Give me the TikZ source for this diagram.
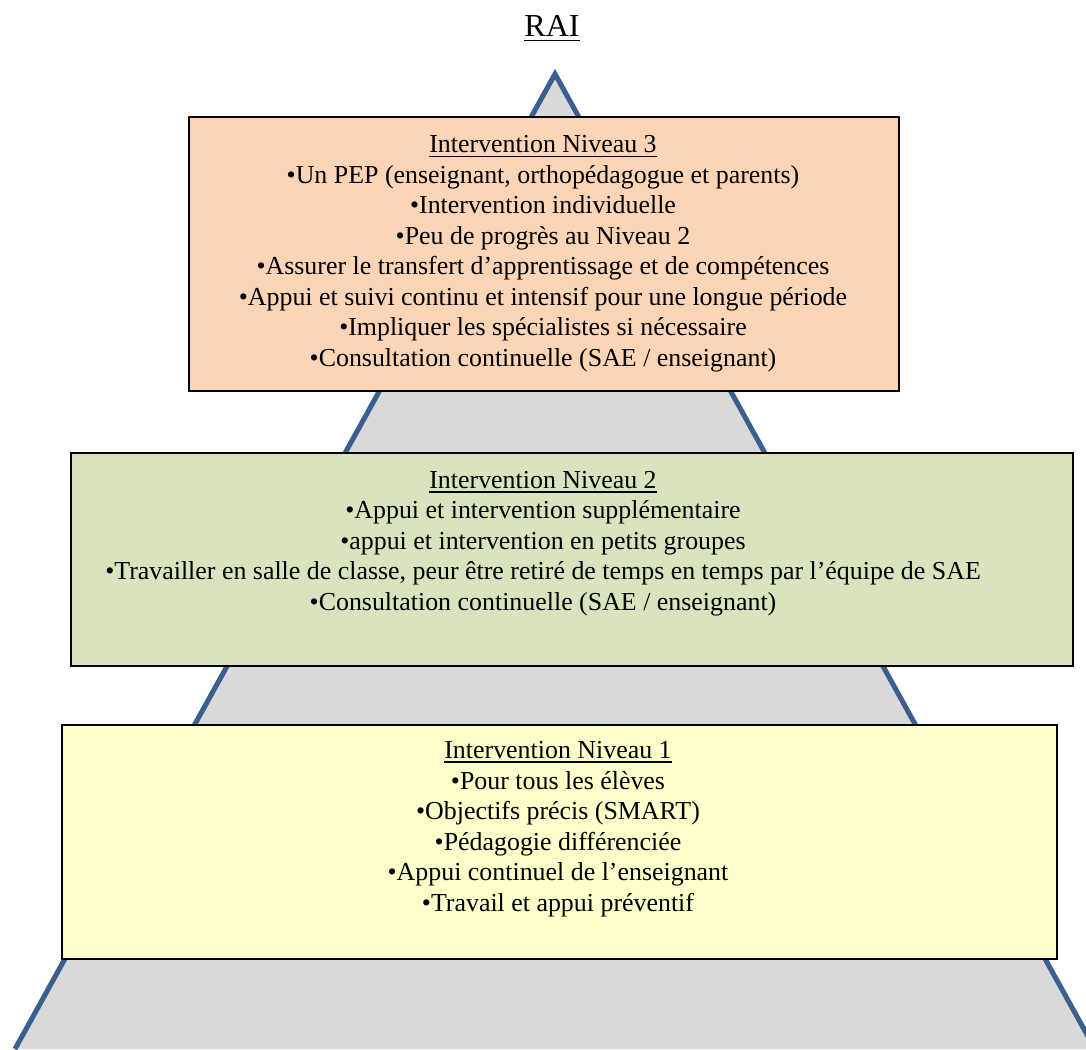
\documentclass[tikz,border=0pt]{standalone}
\usepackage{fontspec}
\setmainfont{Liberation Serif}
\definecolor{pyrfill}{HTML}{D9D9D9}
\definecolor{pyrline}{HTML}{3A5F8E}
\definecolor{lvlthree}{HTML}{FBD5B5}
\definecolor{lvltwo}{HTML}{D7E4BD}
\definecolor{lvlone}{HTML}{FFFFCC}
\newcommand{\ulx}[1]{\setbox0\hbox{#1}\rlap{\copy0}\rule[-4.5pt]{\wd0}{1.8pt}}
\begin{document}
\begin{tikzpicture}[x=1pt,y=-1pt,
  box/.style={draw=black,line width=2.4pt,anchor=north west,inner sep=0pt},
  txt/.style={align=center,anchor=base,inner sep=0pt,font=\fontsize{25.9}{30.45}\selectfont}]
\useasboundingbox (0,0) rectangle (1086,1049);
\clip (0,0) rectangle (1086,1049);
\fill[white] (0,0) rectangle (1086,1049);
% pyramid
\coordinate (bl) at (15,1049);
\coordinate (apex) at (555,74);
\coordinate (br) at (1095,1049);
\filldraw[fill=pyrfill,draw=pyrline,line width=5pt,line join=miter] (bl) -- (apex) -- (br);
% title
\node[anchor=base,inner sep=0pt,font=\fontsize{32}{36}\selectfont] (title) at (552,37) {\ulx{RAI}};
% boxes
\node[box,fill=lvlthree,minimum width=710pt,minimum height=274pt] (b3) at (188,116) {};
\node[box,fill=lvltwo,minimum width=1002pt,minimum height=213pt] (b2) at (70,452) {};
\node[box,fill=lvlone,minimum width=995pt,minimum height=234pt] (b1) at (61,724) {};
% texts
\node[txt] (t3) at (543,366) {\ulx{Intervention Niveau 3}\\
•Un PEP (enseignant, orthopédagogue et parents)\\
•Intervention individuelle\\
•Peu de progrès au Niveau 2\\
•Assurer le transfert d’apprentissage et de compétences\\
•Appui et suivi continu et intensif pour une longue période\\
•Impliquer les spécialistes si nécessaire\\
•Consultation continuelle (SAE / enseignant)};
\node[txt] (t2) at (543,610) {\ulx{Intervention Niveau 2}\\
•Appui et intervention supplémentaire\\
•appui et intervention en petits groupes\\
•Travailler en salle de classe, peur être retiré de temps en temps par l’équipe de SAE\\
•Consultation continuelle (SAE / enseignant)};
\node[txt] (t1) at (558,911) {\ulx{Intervention Niveau 1}\\
•Pour tous les élèves\\
•Objectifs précis (SMART)\\
•Pédagogie différenciée\\
•Appui continuel de l’enseignant\\
•Travail et appui préventif};
\end{tikzpicture}
\end{document}
